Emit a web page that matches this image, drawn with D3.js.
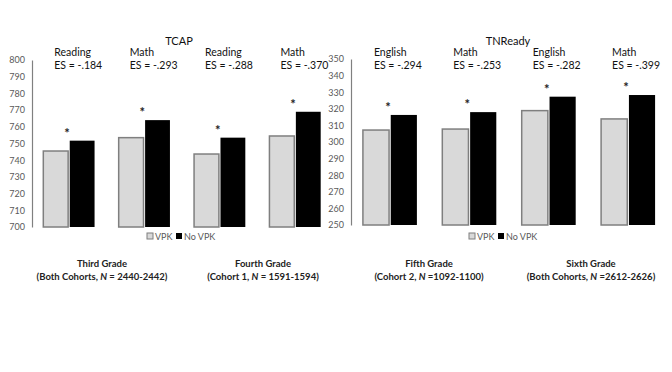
<!DOCTYPE html>
<html>
<head>
<meta charset="utf-8">
<script src="https://cdn.jsdelivr.net/npm/d3@7"></script>
<style>
  body { margin: 0; background: #fff; }
  svg text { font-family: Lato, "Open Sans", sans-serif; }
</style>
</head>
<body>
<div id="chart"></div>
<script>
// TCAP panel (left)
var tcapSubjects = ["Reading", "Math", "Reading", "Math"];
var tcapES = ["ES = -.184", "ES = -.293", "ES = -.288", "ES = -.370"];
var tcapVPK = [745.5, 753.5, 743.7, 754.5];
var tcapNoVPK = [751.7, 764, 753.5, 769];
var tcapTicks = [700, 710, 720, 730, 740, 750, 760, 770, 780, 790, 800];

// TNReady panel (right)
var tnSubjects = ["English", "Math", "English", "Math"];
var tnES = ["ES = -.294", "ES = -.253", "ES = -.282", "ES = -.399"];
var tnVPK = [307.2, 307.8, 318.9, 313.9];
var tnNoVPK = [316.3, 318, 327.3, 328.3];
var tnTicks = [250, 260, 270, 280, 290, 300, 310, 320, 330, 340, 350];

var series = ["VPK", "No VPK"];
var gradeTitles = ["Third Grade", "Fourth Grade", "Fifth Grade", "Sixth Grade"];
var gradeNotes = [
  ["(Both Cohorts, ", "N", " = 2440-2442)"],
  ["(Cohort 1, ", "N", " = 1591-1594)"],
  ["(Cohort 2, ", "N", " =1092-1100)"],
  ["(Both Cohorts, ", "N", " =2612-2626)"]
];

var W = 672, H = 372;
var svg = d3.select("#chart").append("svg")
    .attr("width", W)
    .attr("height", H);

function drawPanel(opt) {
    var g = svg.append("g");
    var groups = d3.range(opt.vpk.length);

    var x = d3.scaleBand()
        .domain(groups)
        .range([opt.left, opt.right])
        .paddingInner(0.32)
        .paddingOuter(0.15);
    var xSub = d3.scaleBand()
        .domain(series)
        .range([0, x.bandwidth()])
        .paddingInner(0.06);
    var y = d3.scaleLinear()
        .domain([opt.ticks[0], opt.ticks[opt.ticks.length - 1]])
        .range([opt.bottom, opt.top]);

    // y axis
    var yAxis = g.append("g")
        .attr("transform", "translate(" + opt.left + ",0)")
        .call(d3.axisLeft(y).tickValues(opt.ticks).tickSize(0).tickPadding(7));
    yAxis.select(".domain").attr("stroke", "#808080").attr("stroke-width", 1.2);
    yAxis.selectAll("text")
        .attr("fill", "#595959")
        .style("font-size", "9px")
        .style("font-family", "Lato, sans-serif");

    // bars
    var rows = groups.map(function (i) {
        return {i: i, vals: [{key: "VPK", value: opt.vpk[i]}, {key: "No VPK", value: opt.novpk[i]}]};
    });
    var grp = g.selectAll("g.grp")
        .data(rows)
        .enter().append("g")
        .attr("class", "grp")
        .attr("transform", function (d) { return "translate(" + x(d.i) + ",0)"; });
    grp.selectAll("rect")
        .data(function (d) { return d.vals; })
        .enter().append("rect")
        .attr("x", function (d) { return xSub(d.key); })
        .attr("y", function (d) { return y(d.value); })
        .attr("width", xSub.bandwidth())
        .attr("height", function (d) { return opt.bottom - y(d.value); })
        .attr("fill", function (d) { return d.key === "VPK" ? "#d9d9d9" : "#000"; })
        .attr("stroke", function (d) { return d.key === "VPK" ? "#7f7f7f" : "none"; })
        .attr("stroke-width", 1.5);

    // significance stars
    grp.append("text")
        .attr("x", x.bandwidth() / 2 - 2)
        .attr("y", function (d) { return y(d3.max(d.vals, function (v) { return v.value; })) - 3; })
        .attr("text-anchor", "middle")
        .style("font-size", "13px")
        .style("font-weight", "bold")
        .attr("fill", "#222")
        .text("*");

    // subject + effect size labels
    grp.append("text")
        .attr("x", 11)
        .attr("y", 56)
        .style("font-size", "10.5px")
        .attr("fill", "#111")
        .text(function (d) { return opt.subjects[d.i]; });
    grp.append("text")
        .attr("x", 11)
        .attr("y", 69)
        .style("font-size", "10.5px")
        .attr("fill", "#111")
        .text(function (d) { return opt.es[d.i]; });

    // panel title
    g.append("text")
        .attr("x", opt.titleX)
        .attr("y", 45)
        .attr("text-anchor", "middle")
        .style("font-size", "11px")
        .attr("fill", "#111")
        .text(opt.title);

    // legend
    var lg = g.append("g").attr("transform", "translate(" + opt.legendX + ",240)");
    lg.append("rect").attr("x", 0).attr("y", -7).attr("width", 6).attr("height", 6)
        .attr("fill", "#d9d9d9").attr("stroke", "#7f7f7f").attr("stroke-width", 1);
    lg.append("text").attr("x", 8).attr("y", 0).style("font-size", "9px").attr("fill", "#595959").text(series[0]);
    lg.append("rect").attr("x", 29).attr("y", -7).attr("width", 6).attr("height", 6).attr("fill", "#000");
    lg.append("text").attr("x", 37).attr("y", 0).style("font-size", "9px").attr("fill", "#595959").text(series[1]);
}

drawPanel({
    title: "TCAP", titleX: 179, legendX: 147,
    left: 32, right: 332, top: 60, bottom: 227,
    subjects: tcapSubjects, es: tcapES, vpk: tcapVPK, novpk: tcapNoVPK, ticks: tcapTicks
});
drawPanel({
    title: "TNReady", titleX: 508, legendX: 469,
    left: 351, right: 667, top: 59, bottom: 225,
    subjects: tnSubjects, es: tnES, vpk: tnVPK, novpk: tnNoVPK, ticks: tnTicks
});

// grade captions under the panels
var captionX = [102, 263, 429, 591];
var cap = svg.selectAll("g.cap")
    .data(gradeTitles)
    .enter().append("g")
    .attr("class", "cap")
    .attr("transform", function (d, i) { return "translate(" + captionX[i] + ",0)"; });
cap.append("text")
    .attr("y", 267)
    .attr("text-anchor", "middle")
    .style("font-size", "9.5px")
    .style("font-weight", "bold")
    .attr("fill", "#222")
    .text(function (d) { return d; });
var line2 = cap.append("text")
    .attr("y", 280)
    .attr("text-anchor", "middle")
    .style("font-size", "9.5px")
    .style("font-weight", "bold")
    .attr("fill", "#222");
line2.selectAll("tspan")
    .data(function (d, i) { return gradeNotes[i]; })
    .enter().append("tspan")
    .style("font-style", function (d, j) { return j === 1 ? "italic" : "normal"; })
    .text(function (d) { return d; });
</script>
</body>
</html>
